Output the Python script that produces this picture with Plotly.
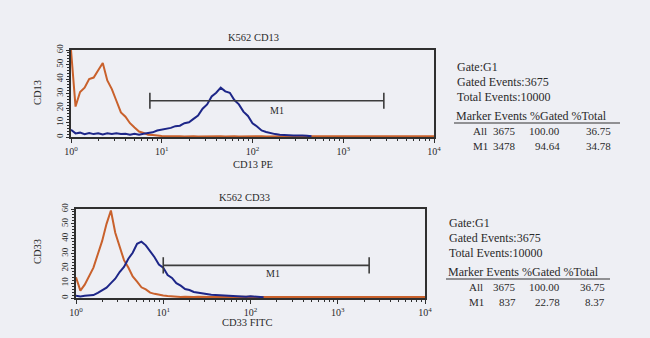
import plotly.graph_objects as go

# ---------------- data (log10 channel positions and event counts) ----------------
LOG_POS = [0.00, 0.05, 0.10, 0.15, 0.20, 0.25, 0.30, 0.35, 0.40, 0.45,
           0.50, 0.55, 0.60, 0.65, 0.70, 0.75, 0.80, 0.85, 0.90, 0.95,
           1.00, 1.05, 1.10, 1.15, 1.20, 1.25, 1.30, 1.35, 1.40, 1.45,
           1.50, 1.55, 1.60, 1.65, 1.70, 1.75, 1.80, 1.85, 1.90, 1.95,
           2.00, 2.05, 2.10, 2.15, 2.20, 2.25, 2.30, 2.35, 2.40, 2.45,
           2.50, 2.55, 2.60, 2.65, 4.00]

CD13_CONTROL = [60, 21, 31, 34, 40, 41, 46, 51, 39, 33,
                25, 17, 14, 9.5, 6.5, 3.8, 2.8, 1.5, 1.3, 0.8,
                0.7, 0.6, 0.4, 0.6, 0.5, 0.4, 0.6, 0.5, 0.4, 0.5,
                0.6, 0.4, 0.5, 0.5, 0.4, 0.6, 0.5, 0.4, 0.5, 0.5,
                0.4, 0.5, 0.6, 0.4, 0.5, 0.5, 0.4, 0.5, 0.5, 0.4,
                0.5, 0.5, 0.4, 0.5, 0.5]
CD13_STAINED = [5, 2.5, 3, 2, 2.8, 2, 2.6, 1.8, 2.5, 2,
                2.6, 2, 2.2, 1.5, 2.2, 1.6, 2.2, 2.6, 3.2, 4.5,
                5, 6, 6.3, 7.5, 7.8, 9.5, 10.2, 12.5, 14.8, 19.5,
                22.5, 28, 30.5, 34, 31.5, 30.5, 25.5, 22.5, 17.5, 14.5,
                9.5, 7.2, 4.5, 3.5, 2.5, 2, 1.5, 1.6, 1.2, 1,
                1.2, 1, 0.8, 0.5, None]

CD33_CONTROL = [14, 5, 9, 14.5, 20.5, 29.5, 38.5, 50, 59, 44,
                35.5, 25.5, 20.5, 14.5, 11, 7.2, 5.8, 3.6, 2.8, 2.1,
                1.7, 1.3, 1, 0.8, 0.7, 0.8, 0.6, 0.7, 0.8, 0.6,
                0.7, 0.7, 0.6, 0.8, 0.7, 0.6, 0.7, 0.7, 0.6, 0.7,
                0.8, 0.6, 0.7, 0.7, 0.6, 0.7, 0.7, 0.6, 0.7, 0.7,
                0.6, 0.7, 0.7, 0.6, 0.7]
CD33_STAINED = [1.5, 1, 1.5, 1.5, 2, 3.5, 5, 7, 10, 13,
                17.5, 21, 26.5, 30.5, 36.5, 38, 35.5, 31.5, 27.5, 22.5,
                20.5, 15.5, 13.5, 10, 8.3, 6, 5.4, 4.1, 3.6, 2.7,
                2.5, 2.2, 2, 1.8, 1.6, 1.4, 1.3, 1.2, 1, 0.8,
                1.2, 1, 0.8, 0.5, None, None, None, None, None, None,
                None, None, None, None, None]

M1_CD13 = [7.4, 2800]
M1_CD13_LEVEL = 25
M1_CD33 = [10, 2290]
M1_CD33_LEVEL = 22

X_TICKS = [1, 10, 100, 1000, 10000]
X_TICK_TEXT = ["10<sup>0</sup>", "10<sup>1</sup>", "10<sup>2</sup>", "10<sup>3</sup>", "10<sup>4</sup>"]
Y_TICKS = [0, 10, 20, 30, 40, 50, 60]

STATS_HEADER = "Marker Events %Gated %Total"
STATS_CD13 = {"gate": "Gate:G1", "gated": "Gated Events:3675", "total": "Total Events:10000",
              "rows": [["All", "3675", "100.00", "36.75"], ["M1", "3478", "94.64", "34.78"]]}
STATS_CD33 = {"gate": "Gate:G1", "gated": "Gated Events:3675", "total": "Total Events:10000",
              "rows": [["All", "3675", "100.00", "36.75"], ["M1", "837", "22.78", "8.37"]]}

# ---------------- styling ----------------
W, H = 650, 338
BG = "#eeeff4"
ORANGE = "#c9612c"
BLUE = "#1d2688"
AXIS = "#2f2f2f"
SERIF = "Liberation Serif, Times New Roman, serif"
TXT = "#2a2a2a"


def px(x):
    return x / W


def py(y):
    return 1 - y / H


xs = [10 ** v for v in LOG_POS]

fig = go.Figure()


def add_hist(vals, color, xa, ya):
    fig.add_trace(go.Scatter(x=xs, y=vals, mode="lines", line=dict(color=color, width=2),
                             xaxis=xa, yaxis=ya, showlegend=False, hoverinfo="skip"))


def add_marker(gate, level, xa, ya):
    lo, hi = gate
    fig.add_trace(go.Scatter(x=[lo, hi], y=[level, level], mode="lines",
                             line=dict(color="#3c3c3c", width=1.6),
                             xaxis=xa, yaxis=ya, showlegend=False, hoverinfo="skip"))
    for e in (lo, hi):
        fig.add_trace(go.Scatter(x=[e, e], y=[level - 5.5, level + 5.5], mode="lines",
                                 line=dict(color="#3c3c3c", width=1.6),
                                 xaxis=xa, yaxis=ya, showlegend=False, hoverinfo="skip"))


# top panel (CD13)
add_hist(CD13_CONTROL, ORANGE, "x", "y")
add_hist(CD13_STAINED, BLUE, "x", "y")
add_marker(M1_CD13, M1_CD13_LEVEL, "x", "y")
# bottom panel (CD33)
add_hist(CD33_CONTROL, ORANGE, "x2", "y2")
add_hist(CD33_STAINED, BLUE, "x2", "y2")
add_marker(M1_CD33, M1_CD33_LEVEL, "x2", "y2")

minor_x = [m * 10 ** d for d in range(4) for m in range(2, 10)]


def xaxis_cfg(domain, anchor):
    return dict(domain=domain, anchor=anchor, type="log", range=[0, 4], automargin=False,
                tickmode="array", tickvals=X_TICKS, ticktext=X_TICK_TEXT,
                ticks="outside", ticklen=4, tickcolor=AXIS, tickwidth=1,
                minor=dict(tickmode="array", tickvals=minor_x, ticks="outside", ticklen=2.5,
                           tickcolor=AXIS, tickwidth=1, showgrid=False),
                showline=True, linecolor=AXIS, linewidth=1.6, mirror=True,
                showgrid=False, zeroline=False,
                tickfont=dict(family=SERIF, size=10, color=TXT))


def yaxis_cfg(domain, anchor):
    return dict(domain=domain, anchor=anchor, range=[0, 60], automargin=False,
                tickmode="array", tickvals=Y_TICKS, tickangle=-90,
                ticks="outside", ticklen=3, tickcolor=AXIS, tickwidth=1,
                minor=dict(dtick=2, ticks="outside", ticklen=2, tickcolor=AXIS, tickwidth=1,
                           showgrid=False),
                showline=True, linecolor=AXIS, linewidth=1.6, mirror=True,
                showgrid=False, zeroline=False,
                tickfont=dict(family=SERIF, size=9, color=TXT))


fig.update_layout(
    width=W, height=H,
    margin=dict(l=0, r=0, t=0, b=0, autoexpand=False),
    paper_bgcolor=BG, plot_bgcolor=BG,
    xaxis=xaxis_cfg([px(71), px(434)], "y"),
    yaxis=yaxis_cfg([py(137), py(50)], "x"),
    xaxis2=xaxis_cfg([px(76), px(425)], "y2"),
    yaxis2=yaxis_cfg([py(298), py(209)], "x2"),
)

ann = []


def text(x, y, s, size=10, xanchor="center", angle=0):
    ann.append(dict(x=px(x), y=py(y), xref="paper", yref="paper", text=s, showarrow=False,
                    xanchor=xanchor, yanchor="middle", textangle=angle,
                    font=dict(family=SERIF, size=size, color=TXT)))


# panel titles and axis titles
text(253, 37, "K562 CD13", 10.5)
text(253, 164, "CD13 PE", 10.5)
text(38, 93, "CD13", 10.5, angle=-90)
text(244, 197, "K562 CD33", 10.5)
text(247, 322, "CD33 FITC", 10.5)
text(37, 252, "CD33", 10.5, angle=-90)

# M1 labels (data coordinates)
ann.append(dict(x=2.27, y=M1_CD13_LEVEL - 6.5, xref="x", yref="y", text="M1", showarrow=False,
                font=dict(family=SERIF, size=10, color=TXT)))
ann.append(dict(x=2.26, y=M1_CD33_LEVEL - 5.5, xref="x2", yref="y2", text="M1", showarrow=False,
                font=dict(family=SERIF, size=10, color=TXT)))


def stats_block(st, left, y0, row_left, col_right, underline_end):
    text(left, y0, st["gate"], 12, "left")
    text(left, y0 + 15, st["gated"], 12, "left")
    text(left, y0 + 30, st["total"], 12, "left")
    text(left - 1, y0 + 49, STATS_HEADER, 12, "left")
    fig.add_shape(type="line", xref="paper", yref="paper",
                  x0=px(left - 1), x1=px(underline_end), y0=py(y0 + 56), y1=py(y0 + 56),
                  line=dict(color="#333333", width=1.2))
    for i, row in enumerate(st["rows"]):
        yy = y0 + 64 + 15 * i
        text(row_left, yy, row[0], 11, "left")
        for j, v in enumerate(row[1:]):
            text(col_right[j], yy, v, 11, "right")


stats_block(STATS_CD13, 455, 67, 471, [518, 562, 613], 620)
stats_block(STATS_CD33, 447, 223, 467, [518, 562, 607], 610)

fig.update_layout(annotations=ann)
fig.write_html("out.html", config={"displayModeBar": False},
               post_script="document.body.style.margin='0';document.body.style.padding='0';")
